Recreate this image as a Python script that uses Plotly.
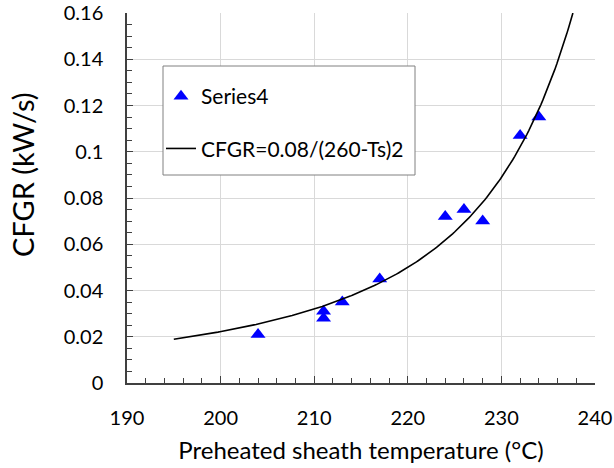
import numpy as np
import plotly.graph_objects as go

# Measured data (Series4)
temps = [204, 211, 211, 213, 217, 224, 226, 228, 232, 234]
cfgr = [0.021, 0.031, 0.028, 0.035, 0.045, 0.072, 0.075, 0.070, 0.107, 0.115]

# Fitted curve stated in the legend: CFGR = 80e-3/(260-Ts)^2 (kW/s, Ts in °C)
fit_coef = 80.0
fit_t0 = 260.0
fit_t_start = 195.0
fit_t_end = 237.64
fit_label = "CFGR=0.08/(260-Ts)2"

x_ticks = [190, 200, 210, 220, 230, 240]
y_ticks = [0, 0.02, 0.04, 0.06, 0.08, 0.1, 0.12, 0.14, 0.16]
y_tick_text = ["0", "0.02", "0.04", "0.06", "0.08", "0.1", "0.12", "0.14", "0.16"]

fit_x = np.linspace(fit_t_start, fit_t_end, 200)
fit_y = fit_coef / (fit_t0 - fit_x) ** 2

FONT = "Lato"
AX = "#404040"
PL, PR, PT, PB = 127, 595, 13, 383
PW, PH = PR - PL, PB - PT


def px_x(p):
    return (p - PL) / PW


def px_y(p):
    return (PB - p) / PH


fig = go.Figure()
fig.add_trace(go.Scatter(
    x=temps, y=cfgr, mode="markers", name="Series4", legendgroup="a",
    marker=dict(symbol="triangle-up", size=13, color="#0000FF"),
))
fig.add_trace(go.Scatter(
    x=fit_x, y=fit_y, mode="lines", name=fit_label, legendgroup="b",
    line=dict(color="black", width=1.6),
))

fig.update_layout(
    width=614, height=468,
    margin=dict(l=PL, r=614 - PR, t=PT, b=468 - PB),
    paper_bgcolor="white", plot_bgcolor="white",
    font=dict(family=FONT, color="black"),
    showlegend=True,
    legend=dict(
        x=px_x(161), y=px_y(76), xanchor="left", yanchor="top",
        bgcolor="rgba(0,0,0,0)", borderwidth=0,
        font=dict(family=FONT, size=21, color="black"),
        traceorder="grouped", tracegroupgap=22, itemwidth=30,
    ),
    shapes=[dict(
        type="rect", xref="paper", yref="paper",
        x0=px_x(163), x1=px_x(415), y0=px_y(175), y1=px_y(66),
        line=dict(color="#808080", width=1), fillcolor="white", layer="above",
    )],
    annotations=[dict(
        text="CFGR (kW/s)", textangle=-90, xref="paper", yref="paper",
        x=px_x(22), y=px_y(175), xanchor="center", yanchor="middle",
        showarrow=False, font=dict(family=FONT, size=29, color="black"),
    )],
)

fig.update_xaxes(
    range=[190, 240], tickvals=x_ticks, ticktext=[str(v) for v in x_ticks],
    showgrid=True, gridcolor="#d9d9d9", gridwidth=1,
    showline=True, linecolor=AX, linewidth=1.5,
    ticks="inside", ticklen=7, tickcolor=AX, tickwidth=1,
    minor=dict(dtick=2, ticks="inside", ticklen=5, tickcolor=AX, showgrid=False),
    tickfont=dict(family=FONT, size=20, color="black"),
    ticklabelstandoff=16,
    title=dict(text="Preheated sheath temperature (°C)", standoff=14,
               font=dict(family=FONT, size=24, color="black")),
    zeroline=False, automargin=False,
)
fig.update_yaxes(
    range=[0, 0.16], tickvals=y_ticks, ticktext=y_tick_text,
    showgrid=True, gridcolor="#d9d9d9", gridwidth=1,
    showline=True, linecolor=AX, linewidth=1.5,
    ticks="inside", ticklen=6, tickcolor=AX, tickwidth=1,
    minor=dict(dtick=0.005, ticks="inside", ticklen=5, tickcolor=AX, showgrid=False),
    tickfont=dict(family=FONT, size=20, color="black"),
    ticklabelstandoff=18,
    zeroline=False, automargin=False,
)

fig.write_html(
    "out.html",
    config={"displayModeBar": False},
    post_script="document.body.style.margin='0';document.body.style.overflow='hidden';",
)
